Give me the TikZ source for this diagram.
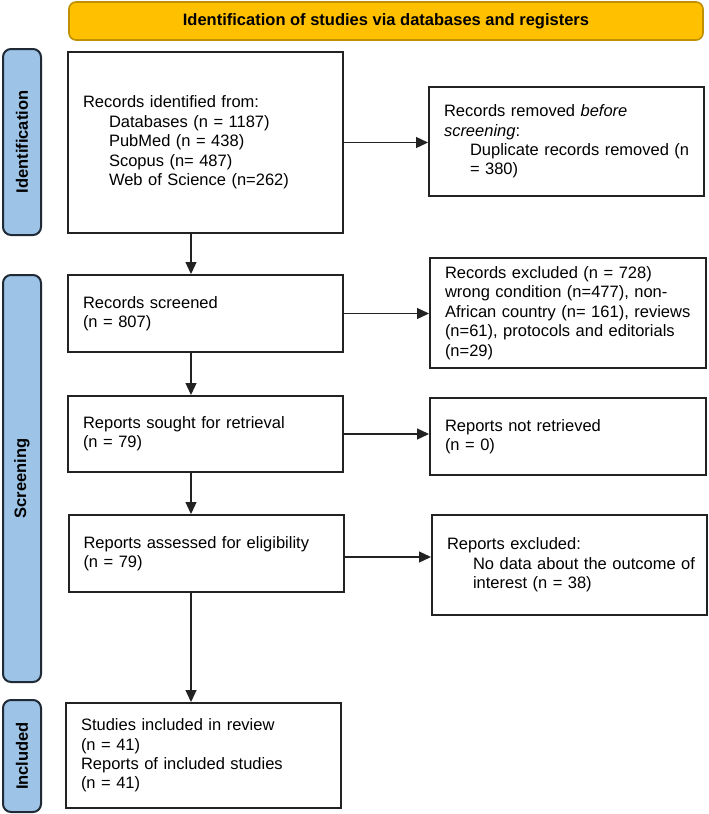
\documentclass[tikz,border=0pt]{standalone}
\usepackage{fontspec}
\setmainfont{Liberation Sans}
\usetikzlibrary{arrows.meta,calc}
\definecolor{bannerfill}{HTML}{FFC000}
\definecolor{bannerline}{HTML}{BF9000}
\definecolor{tabfill}{HTML}{9DC3E6}
\definecolor{tabline}{HTML}{1F2A36}
\definecolor{boxline}{HTML}{222222}
\tikzset{
  box/.style={draw=boxline, line width=2pt, fill=white, rectangle,
    inner xsep=15pt, inner ysep=0pt, align=left, anchor=center,
    font=\fontsize{16.5}{19.4}\selectfont},
  tab/.style={draw=tabline, line width=2pt, fill=tabfill, rounded corners=8pt,
    minimum width=38pt, inner sep=0pt},
  tablabel/.style={rotate=90, font=\fontsize{16.5}{19}\selectfont\bfseries},
  arr/.style={draw=boxline, line width=1.3pt, -{Triangle[length=12pt,width=11pt]}},
}
\newcommand{\ind}{\hspace*{26pt}}
\begin{document}
\begin{tikzpicture}[x=1pt,y=-1pt]
\useasboundingbox (0,0) rectangle (709,814);
% banner
\node[draw=bannerline, line width=1.6pt, fill=bannerfill, rounded corners=7pt,
  minimum width=634pt, minimum height=38pt, inner sep=0pt,
  font=\fontsize{16.5}{19}\selectfont\bfseries] (banner) at (386,21)
  {Identification of studies via databases and registers};
% side tabs
\node[tab, minimum height=186pt] (tid) at (22,142) {};
\node[tablabel] (tidl) at (tid.center) {Identification};
\node[tab, minimum height=407pt] (tsc) at (22,478.5) {};
\node[tablabel] (tscl) at (tsc.center) {Screening};
\node[tab, minimum height=112pt] (tin) at (22,756) {};
\node[tablabel] (tinl) at (tin.center) {Included};
% left column
\node[box, text width=245pt, minimum height=181pt] (b1) at (205.5,142.5)
  {Records identified from:\\
   \ind Databases (n = 1187)\\
   \ind PubMed (n = 438)\\
   \ind Scopus (n= 487)\\
   \ind Web of Science (n=262)};
\node[box, text width=245pt, minimum height=77pt] (b2) at (205.5,313.5)
  {Records screened\\(n = 807)};
\node[box, text width=245pt, minimum height=76pt] (b3) at (205.5,434)
  {Reports sought for retrieval\\(n = 79)};
\node[box, text width=245pt, minimum height=77pt] (b4) at (206,553.5)
  {Reports assessed for eligibility\\(n = 79)};
\node[box, text width=245pt, minimum height=105pt] (b5) at (203.5,755.5)
  {Studies included in review\\(n = 41)\\Reports of included studies\\(n = 41)};
% right column
\node[box, text width=245pt, minimum height=109pt] (r1) at (566.5,141.5)
  {Records removed \textit{before}\\
   \textit{screening}:\\
   \ind\mbox{Duplicate records removed (n}\\
   \ind = 380)};
\node[box, text width=246pt, minimum height=110pt] (r2) at (568,313)
  {Records excluded (n = 728)\\
   wrong condition (n=477), non-\\
   \mbox{African country (n= 161), reviews}\\
   (n=61), protocols and editorials\\
   (n=29)};
\node[box, text width=246pt, minimum height=77pt] (r3) at (568,436.5)
  {Reports not retrieved\\(n = 0)};
\node[box, text width=245pt, minimum height=100pt] (r4) at (569.5,565)
  {Reports excluded:\\
   \ind\mbox{No data about the outcome of}\\
   \ind interest (n = 38)};
% connectors
\coordinate (ax) at (191,0);
\draw[arr] (b1.south -| ax) -- (b2.north -| ax);
\draw[arr] (b2.south -| ax) -- (b3.north -| ax);
\draw[arr] (b3.south -| ax) -- (b4.north -| ax);
\draw[arr] (b4.south -| ax) -- (b5.north -| ax);
\draw[arr] (b1.east) -- (b1.east -| r1.west);
\draw[arr] (b2.east) -- (b2.east -| r2.west);
\draw[arr] (b3.east) -- (b3.east -| r3.west);
\coordinate (a4) at ($(b4.east)+(0,3.5)$);
\draw[arr] (a4) -- (a4 -| r4.west);
\end{tikzpicture}
\end{document}
